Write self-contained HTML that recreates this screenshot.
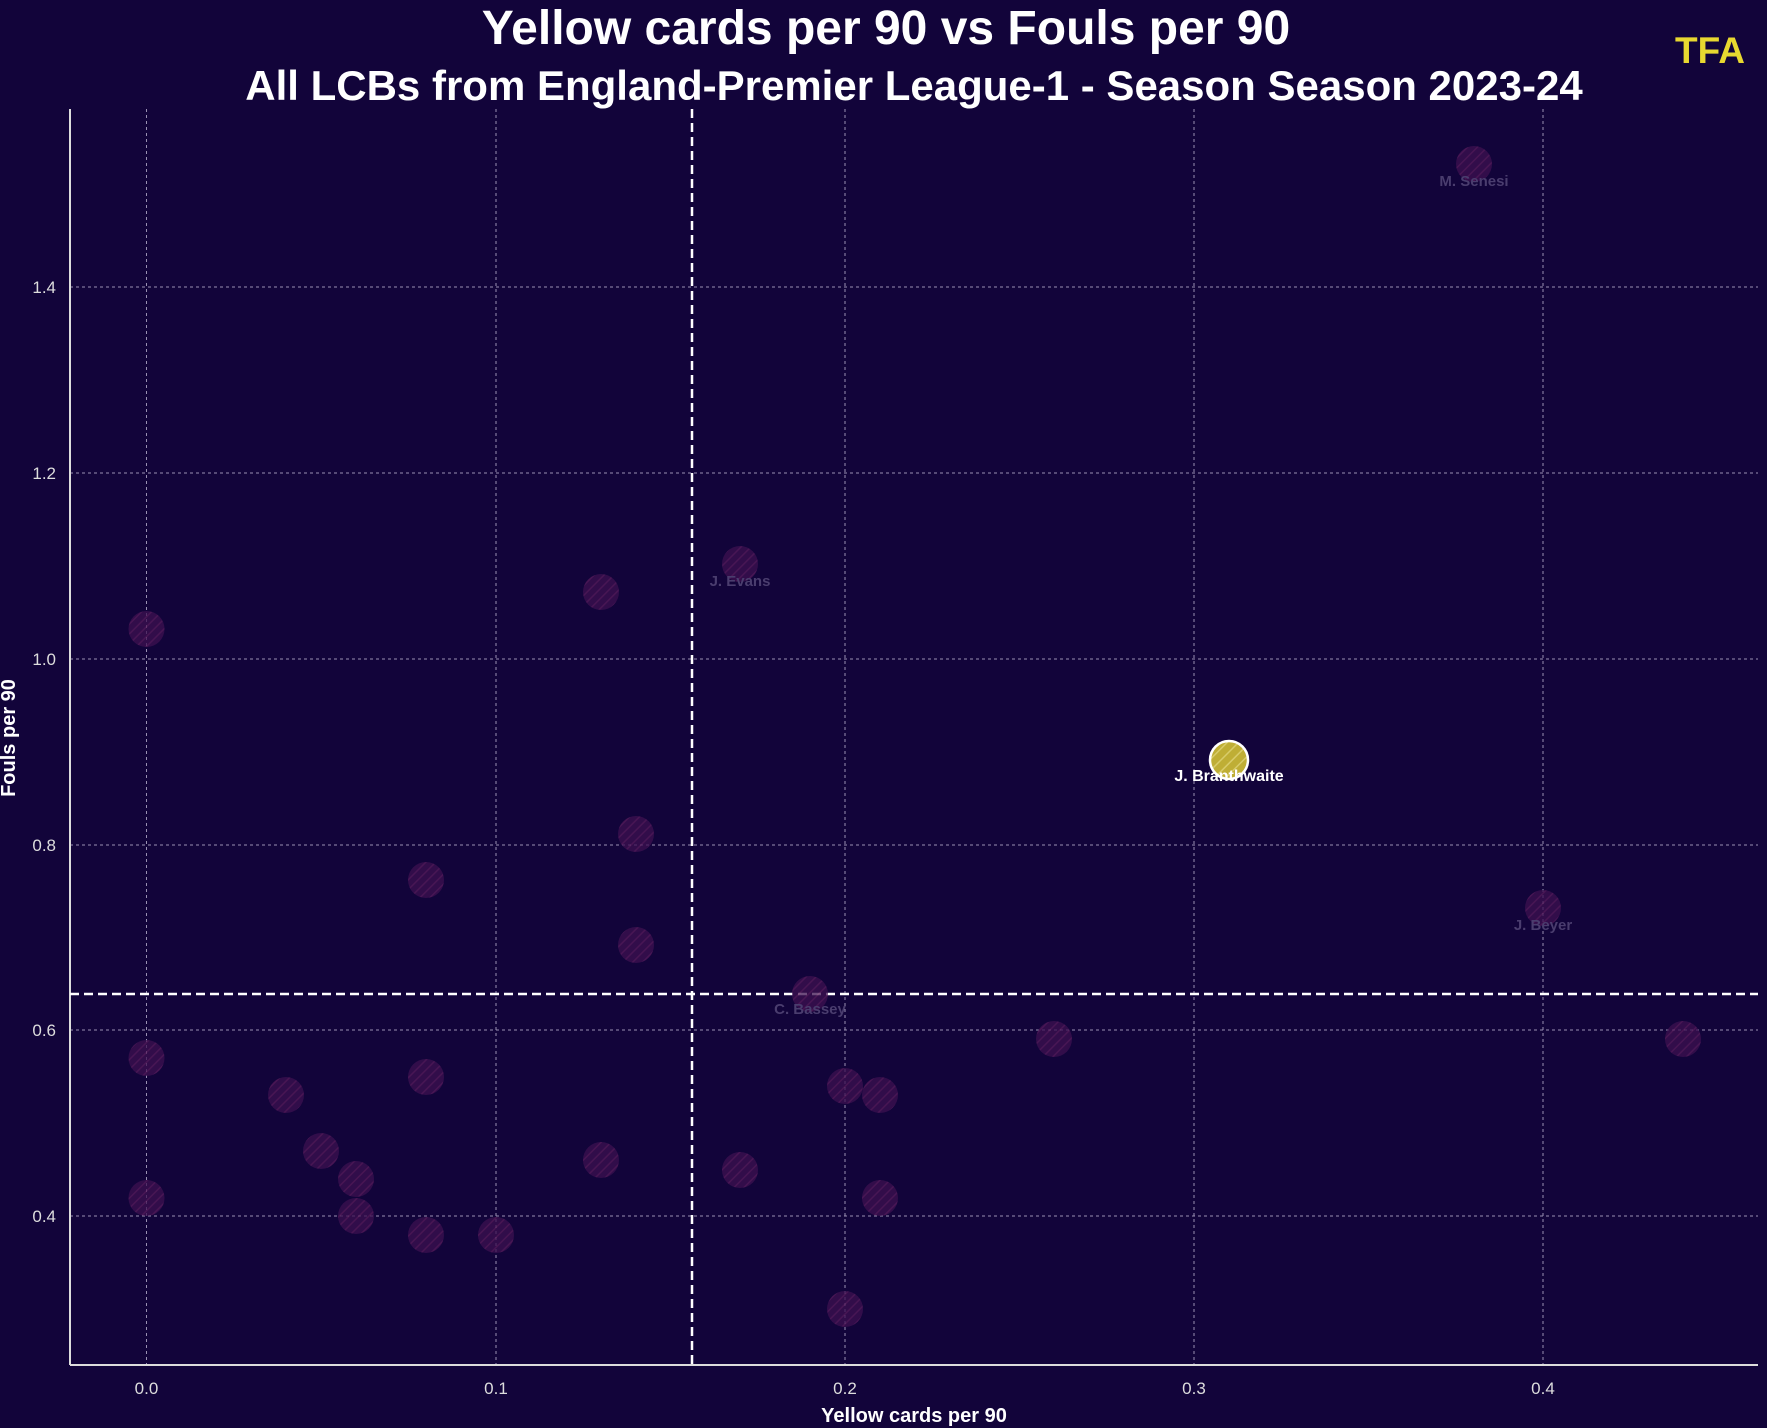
<!DOCTYPE html>
<html><head><meta charset="utf-8"><style>
html,body{margin:0;padding:0;background:#12043a;}
svg{display:block;}
text{font-family:"Liberation Sans",sans-serif;}
</style></head><body>
<svg width="1767" height="1428" viewBox="0 0 1767 1428" xmlns="http://www.w3.org/2000/svg">
<defs>
<pattern id="h" width="7" height="7" patternUnits="userSpaceOnUse" patternTransform="rotate(45)">
<rect width="7" height="7" fill="#3c1050"/><line x1="0" y1="0" x2="0" y2="7" stroke="#5a1c5c" stroke-width="3"/></pattern>
<pattern id="hy" width="8" height="8" patternUnits="userSpaceOnUse" patternTransform="rotate(45)">
<rect width="8" height="8" fill="#bfae35"/><line x1="0" y1="0" x2="0" y2="8" stroke="#d8cc6a" stroke-width="3"/></pattern>
</defs>
<rect width="1767" height="1428" fill="#12043a"/>
<text x="886" y="44" text-anchor="middle" font-size="48" font-weight="bold" fill="#fff">Yellow cards per 90 vs Fouls per 90</text>
<text x="914" y="100" text-anchor="middle" font-size="42" font-weight="bold" fill="#fff">All LCBs from England-Premier League-1 - Season Season 2023-24</text>
<text x="1710" y="63" text-anchor="middle" font-size="37" font-weight="bold" fill="#e8d830">TFA</text>
<g stroke="#c8c0dc" stroke-width="1" stroke-dasharray="3,3" opacity="0.75">
<line x1="146.5" y1="109" x2="146.5" y2="1365"/><line x1="496" y1="109" x2="496" y2="1365"/>
<line x1="845" y1="109" x2="845" y2="1365"/><line x1="1194" y1="109" x2="1194" y2="1365"/>
<line x1="1543" y1="109" x2="1543" y2="1365"/>
<line x1="70" y1="287" x2="1758" y2="287"/><line x1="70" y1="473" x2="1758" y2="473"/>
<line x1="70" y1="659" x2="1758" y2="659"/><line x1="70" y1="845" x2="1758" y2="845"/>
<line x1="70" y1="1030" x2="1758" y2="1030"/><line x1="70" y1="1216" x2="1758" y2="1216"/>
</g>
<line x1="70" y1="109" x2="70" y2="1365" stroke="#ddd" stroke-width="2"/>
<line x1="70" y1="1365" x2="1758" y2="1365" stroke="#ddd" stroke-width="2"/>
<line x1="692" y1="109" x2="692" y2="1365" stroke="#fff" stroke-width="2.5" stroke-dasharray="9,5"/>
<line x1="70" y1="994" x2="1758" y2="994" stroke="#fff" stroke-width="2.5" stroke-dasharray="9,5"/>
<g font-size="17" fill="#ddd" text-anchor="middle">
<text x="146.5" y="1394">0.0</text><text x="496" y="1394">0.1</text><text x="845" y="1394">0.2</text>
<text x="1194" y="1394">0.3</text><text x="1543" y="1394">0.4</text>
</g>
<g font-size="17" fill="#ddd" text-anchor="end">
<text x="56" y="293">1.4</text><text x="56" y="479">1.2</text><text x="56" y="665">1.0</text>
<text x="56" y="851">0.8</text><text x="56" y="1036">0.6</text><text x="56" y="1222">0.4</text>
</g>
<text x="914" y="1422" text-anchor="middle" font-size="20" font-weight="bold" fill="#fff">Yellow cards per 90</text>
<text transform="translate(15,738) rotate(-90)" text-anchor="middle" font-size="20" font-weight="bold" fill="#fff">Fouls per 90</text>
<g fill="url(#h)" opacity="0.75">
<circle cx="1474" cy="164" r="18"/><circle cx="740" cy="564" r="18"/><circle cx="601" cy="592" r="18"/>
<circle cx="146.5" cy="629" r="18"/><circle cx="636" cy="834" r="18"/><circle cx="426" cy="880" r="18"/>
<circle cx="1543" cy="908" r="18"/><circle cx="636" cy="945" r="18"/><circle cx="810" cy="994" r="18"/>
<circle cx="1054" cy="1039" r="18"/><circle cx="1683" cy="1039" r="18"/><circle cx="146.5" cy="1058" r="18"/>
<circle cx="426" cy="1077" r="18"/><circle cx="286" cy="1095" r="18"/><circle cx="845" cy="1086" r="18"/>
<circle cx="880" cy="1095" r="18"/><circle cx="321" cy="1151" r="18"/><circle cx="601" cy="1160" r="18"/>
<circle cx="356" cy="1179" r="18"/><circle cx="740" cy="1170" r="18"/><circle cx="146.5" cy="1198" r="18"/>
<circle cx="880" cy="1198" r="18"/><circle cx="356" cy="1216" r="18"/><circle cx="426" cy="1235" r="18"/>
<circle cx="496" cy="1235" r="18"/><circle cx="845" cy="1309" r="18"/>
</g>
<circle cx="1229" cy="760" r="19" fill="url(#hy)" stroke="#fff" stroke-width="2.5"/>
<g font-size="15" font-weight="bold" fill="#4a3d6e" text-anchor="middle">
<text x="1474" y="186">M. Senesi</text><text x="740" y="586">J. Evans</text>
<text x="1543" y="930">J. Beyer</text><text x="810" y="1014">C. Bassey</text>
</g>
<text x="1229" y="781" text-anchor="middle" font-size="16" font-weight="bold" fill="#fff">J. Branthwaite</text>
</svg>
</body></html>
